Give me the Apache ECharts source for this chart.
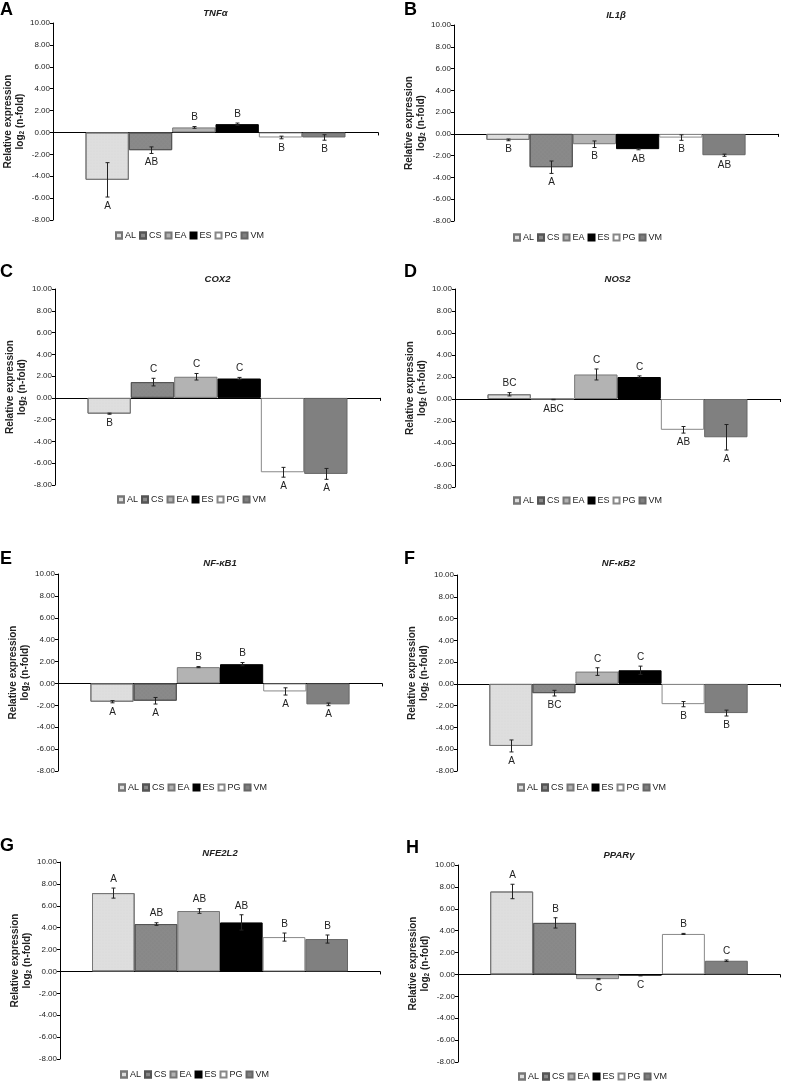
<!DOCTYPE html>
<html><head><meta charset="utf-8">
<script src="https://cdn.jsdelivr.net/npm/echarts@6/dist/echarts.min.js"></script>
<style>html,body{margin:0;padding:0;background:#fff}#c{width:785px;height:1081px}</style>
</head><body><div id="c"></div>
<script>
// ---- data ----
const groups = ['AL', 'CS', 'EA', 'ES', 'PG', 'VM'];
const panelLetters = ['A', 'B', 'C', 'D', 'E', 'F', 'G', 'H'];
const genes = ['TNFα', 'IL1β', 'COX2', 'NOS2', 'NF-κB1', 'NF-κB2', 'NFE2L2', 'PPARγ'];
const yMin = -8, yMax = 10, yStep = 2;

const tnfMean = [-4.33, -1.62, 0.46, 0.76, -0.46, -0.46];
const tnfErr  = [1.57, 0.30, 0.08, 0.10, 0.12, 0.25];
const tnfSig  = ['A', 'AB', 'B', 'B', 'B', 'B'];

const il1Mean = [-0.55, -3.06, -0.95, -1.40, -0.34, -1.96];
const il1Err  = [0.08, 0.57, 0.30, 0.06, 0.25, 0.10];
const il1Sig  = ['B', 'A', 'B', 'AB', 'B', 'AB'];

const coxMean = [-1.45, 1.45, 1.94, 1.78, -6.83, -6.98];
const coxErr  = [0.05, 0.35, 0.30, 0.10, 0.45, 0.50];
const coxSig  = ['B', 'C', 'C', 'C', 'A', 'A'];

const nosMean = [0.43, -0.05, 2.23, 2.00, -2.80, -3.48];
const nosErr  = [0.15, 0.02, 0.50, 0.10, 0.30, 1.16];
const nosSig  = ['BC', 'ABC', 'C', 'C', 'AB', 'A'];

const nfkb1Mean = [-1.67, -1.58, 1.49, 1.76, -0.73, -1.91];
const nfkb1Err  = [0.10, 0.30, 0.05, 0.15, 0.33, 0.12];
const nfkb1Sig  = ['A', 'A', 'B', 'B', 'A', 'A'];

const nfkb2Mean = [-5.70, -0.85, 1.13, 1.25, -1.86, -2.68];
const nfkb2Err  = [0.55, 0.26, 0.35, 0.38, 0.24, 0.27];
const nfkb2Sig  = ['A', 'BC', 'C', 'C', 'B', 'B'];

const nfeMean = [7.16, 4.33, 5.52, 4.48, 3.14, 2.96];
const nfeErr  = [0.46, 0.12, 0.21, 0.70, 0.37, 0.37];
const nfeSig  = ['A', 'AB', 'AB', 'AB', 'B', 'B'];

const pparMean = [7.58, 4.71, -0.43, -0.10, 3.70, 1.25];
const pparErr  = [0.66, 0.47, 0.05, 0.03, 0.05, 0.07];
const pparSig  = ['A', 'B', 'C', 'C', 'B', 'C'];

const means = [tnfMean, il1Mean, coxMean, nosMean, nfkb1Mean, nfkb2Mean, nfeMean, pparMean];
const errs  = [tnfErr, il1Err, coxErr, nosErr, nfkb1Err, nfkb2Err, nfeErr, pparErr];
const sigs  = [tnfSig, il1Sig, coxSig, nosSig, nfkb1Sig, nfkb2Sig, nfeSig, pparSig];

// ---- layout & style ----
const FONT = 'Liberation Sans, Arial, sans-serif';
const grids = [
  {left: 53, top: 23, width: 325, height: 197},
  {left: 454, top: 25, width: 324, height: 196},
  {left: 55, top: 289, width: 325, height: 196},
  {left: 455, top: 289, width: 325, height: 198},
  {left: 58, top: 574, width: 324, height: 197},
  {left: 457, top: 575, width: 323, height: 196},
  {left: 60, top: 862, width: 320, height: 197},
  {left: 458, top: 865, width: 322, height: 197}
];
const titleY = [8, 10, 274, 274, 558, 558, 848, 850];
const legendPos = [[115, 231], [513, 233], [117, 495], [513, 496], [118, 783], [517, 783], [120, 1070], [518, 1072]];
const letterPos = [[0, 1], [404, 1], [0, 263], [404, 263], [0, 550], [404, 550], [0, 837], [406, 839]];

const barStyles = [
  {color: '#dedede', borderColor: '#777', borderWidth: 1, decal: {symbol: 'circle', symbolSize: 0.35, dashArrayX: [[2, 1]], dashArrayY: [2, 1], color: 'rgba(0,0,0,0.12)'}},
  {color: '#8a8a8a', borderColor: '#555', borderWidth: 1, decal: {symbol: 'rect', symbolSize: 0.4, dashArrayX: [[2, 1]], dashArrayY: [2, 1], rotation: Math.PI / 4, color: 'rgba(0,0,0,0.12)'}},
  {color: '#b3b3b3', borderColor: '#777', borderWidth: 1},
  {color: '#000000', borderColor: '#000', borderWidth: 1},
  {color: '#ffffff', borderColor: '#888', borderWidth: 1},
  {color: '#808080', borderColor: '#666', borderWidth: 1}
];

const option = {
  animation: false,
  textStyle: {fontFamily: FONT},
  grid: grids.map(g => Object.assign({containLabel: false}, g)),
  title: genes.map((g, p) => ({
    text: g,
    left: grids[p].left + grids[p].width / 2,
    top: titleY[p],
    padding: 0,
    textAlign: 'center',
    textStyle: {fontSize: 9.5, fontWeight: 'bold', fontStyle: 'italic', color: '#222', fontFamily: FONT}
  })),
  legend: genes.map((g, p) => ({
    data: groups,
    left: legendPos[p][0],
    top: legendPos[p][1],
    padding: 0,
    itemWidth: 6,
    itemHeight: 6,
    itemGap: 3,
    icon: 'rect',
    selectedMode: false,
    textStyle: {fontSize: 9, color: '#222', fontFamily: FONT, padding: [0, 0, 0, -2]}
  })),
  xAxis: genes.map((g, p) => ({
    type: 'category',
    gridIndex: p,
    data: [''],
    axisLine: {onZero: true, lineStyle: {color: '#000', width: 1}},
    axisTick: {show: true, length: 3, lineStyle: {color: '#000'}},
    axisLabel: {show: false},
    splitLine: {show: false}
  })),
  yAxis: genes.map((g, p) => ({
    type: 'value',
    gridIndex: p,
    min: yMin, max: yMax, interval: yStep,
    axisLine: {show: true, lineStyle: {color: '#000', width: 1}},
    axisTick: {show: true, length: 3, lineStyle: {color: '#000'}},
    axisLabel: {fontSize: 8, color: '#222', margin: 3, formatter: v => v.toFixed(2), fontFamily: FONT},
    splitLine: {show: false},
    name: '{b|Relative expression}\n{b|log}{s|2}{b| (n-fold)}',
    nameLocation: 'middle',
    nameGap: 25,
    nameTextStyle: {
      fontFamily: FONT,
      rich: {
        b: {fontSize: 10, fontWeight: 'bold', color: '#222', lineHeight: 12, fontFamily: FONT},
        s: {fontSize: 6.5, fontWeight: 'bold', color: '#222', lineHeight: 12, padding: [5, 0, 0, 0], fontFamily: FONT}
      }
    }
  })),
  graphic: panelLetters.map((L, p) => ({
    type: 'text', left: letterPos[p][0], top: letterPos[p][1],
    style: {text: L, fontSize: 18, fontWeight: 'bold', fill: '#000', fontFamily: FONT}
  })),
  series: []
};

genes.forEach((g, p) => {
  groups.forEach((name, i) => {
    option.series.push({
      type: 'bar', name: name,
      xAxisIndex: p, yAxisIndex: p,
      data: [means[p][i]],
      barGap: '0%', barCategoryGap: '20%',
      itemStyle: barStyles[i],
      emphasis: {disabled: true},
      silent: true
    });
  });
  const sig = sigs[p];
  option.series.push({
    type: 'custom',
    xAxisIndex: p, yAxisIndex: p,
    silent: true, z: 10,
    data: groups.map((n, i) => [0, means[p][i], errs[p][i], i]),
    renderItem: function (params, api) {
      const m = api.value(1), e = api.value(2), i = api.value(3);
      const band = api.size([1, 0])[0];
      const bw = band * 0.8 / 6;
      const c0 = api.coord([0, 0]);
      const x = Math.round(c0[0] - band * 0.4 + (i + 0.5) * bw) + 0.5;
      const yt = api.coord([0, m + e])[1];
      const yb = api.coord([0, m - e])[1];
      const st = {stroke: '#222', lineWidth: 1};
      const up = m >= 0;
      const ty = up ? yt - 9 : yb + 9;
      return {
        type: 'group',
        children: [
          {type: 'line', shape: {x1: x, y1: yt, x2: x, y2: yb}, style: st},
          {type: 'line', shape: {x1: x - 2, y1: yt, x2: x + 2, y2: yt}, style: st},
          {type: 'line', shape: {x1: x - 2, y1: yb, x2: x + 2, y2: yb}, style: st},
          {type: 'text', x: x, y: ty, style: {text: sig[i], fontSize: 10, fill: '#222', align: 'center', verticalAlign: 'middle', fontFamily: FONT}}
        ]
      };
    }
  });
});

const chart = echarts.init(document.getElementById('c'), null, {renderer: 'canvas'});
chart.setOption(option);
</script>
</body></html>
